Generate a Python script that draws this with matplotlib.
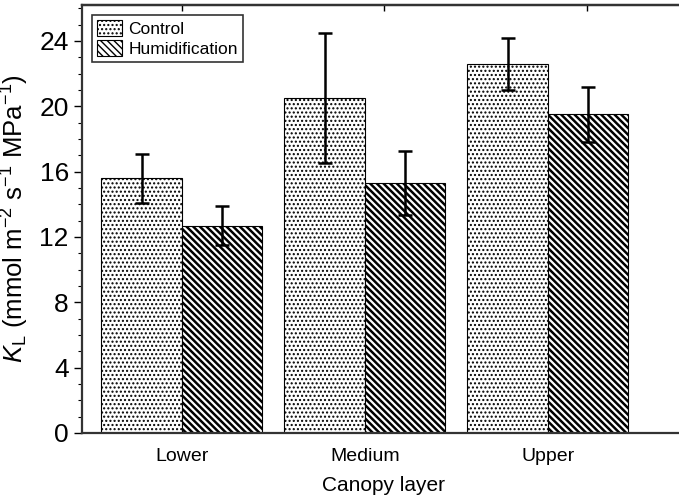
import numpy as np
import matplotlib
matplotlib.use('Agg')
import matplotlib.pyplot as plt
from matplotlib.ticker import MultipleLocator

# Data
layers = ['Lower', 'Medium', 'Upper']
control = [15.6, 20.5, 22.6]
control_err = [1.5, 4.0, 1.6]
humid = [12.7, 15.3, 19.5]
humid_err = [1.2, 1.95, 1.7]

plt.rcParams['font.family'] = ['Liberation Sans', 'DejaVu Sans']
plt.rcParams['mathtext.fontset'] = 'custom'
plt.rcParams['mathtext.rm'] = 'Liberation Sans'
plt.rcParams['mathtext.it'] = 'Liberation Sans:italic'

fig = plt.figure(figsize=(6.79, 5.0), dpi=100)
ax = fig.add_axes([0.1208, 0.134, 0.888, 0.856])

x = np.arange(len(layers))
w = 0.44
with plt.rc_context({'hatch.linewidth': 1.0}):
    b1 = ax.bar(x - w / 2, control, w, color='white', edgecolor='black', linewidth=0.8,
                hatch='....', label='Control')
with plt.rc_context({'hatch.linewidth': 1.8}):
    b2 = ax.bar(x + w / 2, humid, w, color='white', edgecolor='black', linewidth=0.8,
                hatch='\\' * 5, label='Humidification')
# per-patch hatch width where supported
for bars, lw in [(b1, 1.0), (b2, 1.8)]:
    for p in bars:
        try:
            p.set_hatch_linewidth(lw)
        except AttributeError:
            pass

ax.errorbar(x - w / 2, control, yerr=control_err, fmt='none', ecolor='black',
            elinewidth=1.8, capsize=5, capthick=1.8)
ax.errorbar(x + w / 2, humid, yerr=humid_err, fmt='none', ecolor='black',
            elinewidth=1.8, capsize=5, capthick=1.8)

ax.set_xlim(-0.546, 2.75)
ax.set_ylim(0, 26.2)
ax.set_xticks(x)
ax.set_xticklabels(layers, fontsize=14)
ax.tick_params(axis='x', length=0, pad=11)
ax.yaxis.set_major_locator(MultipleLocator(4))
ax.yaxis.set_minor_locator(MultipleLocator(1))
ax.tick_params(axis='y', which='major', labelsize=19, length=6, width=1, direction='out')
ax.tick_params(axis='y', which='minor', length=3, width=0.8, direction='out')

# small inward ticks along the top edge
sec = ax.secondary_xaxis('top')
sec.set_xticks([0.0, 1.104, 2.213])
sec.set_xticklabels([])
sec.tick_params(direction='in', length=4, width=1)
sec.spines['top'].set_linewidth(1.6)

for s in ['left', 'bottom', 'top']:
    ax.spines[s].set_linewidth(1.6)
    ax.spines[s].set_color('#333333')
ax.spines['right'].set_visible(False)

ax.set_xlabel('Canopy layer', fontsize=15, labelpad=8)
ax.set_ylabel(r'$K_{\mathrm{L}}$ (mmol m$^{-2}$ s$^{-1}$ MPa$^{-1}$)', fontsize=18.5, labelpad=6)

leg = ax.legend(loc='upper left', bbox_to_anchor=(0.0166, 0.977), fontsize=12.5,
                frameon=True, fancybox=False, edgecolor='black',
                handlelength=1.4, handleheight=1.0, handletextpad=0.4,
                borderpad=0.3, labelspacing=0.2, borderaxespad=0)
leg.get_frame().set_linewidth(1.2)

fig.savefig('out.png', dpi=100)
